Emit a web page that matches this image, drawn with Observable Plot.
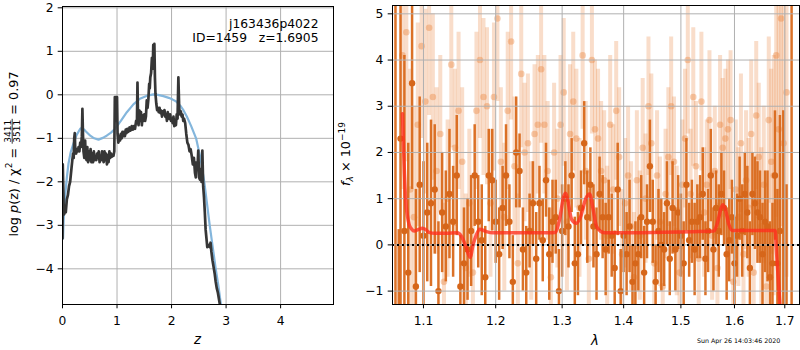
<!DOCTYPE html>
<html><head><meta charset="utf-8">
<script src="https://cdn.jsdelivr.net/npm/d3@7"></script>
<script src="https://cdn.jsdelivr.net/npm/@observablehq/plot@0.6"></script>
<style>
body{margin:0;background:#fff;}
#fig{position:relative;width:800px;height:350px;background:#fff;font-family:"DejaVu Sans",sans-serif;}
#fig > svg{position:absolute;top:0;}
</style></head><body><div id="fig"></div>
<script>
// ---------- LEFT PANEL DATA: log p(z) ----------
const zTicks = [0, 1, 2, 3, 4];
const pTicks = [-4, -3, -2, -1, 0, 1, 2];
const pzZ = [0.000,0.005,0.012,0.020,0.030,0.045,0.060,0.080,0.100,0.120,0.140,0.160,0.180,0.195,0.205,0.215,0.225,0.235,0.250,0.265,0.280,0.295,0.310,0.325,0.340,0.355,0.365,0.375,0.385,0.400,0.415,0.425,0.440,0.455,0.470,0.485,0.500,0.515,0.530,0.545,0.560,0.575,0.590,0.605,0.620,0.635,0.650,0.665,0.680,0.695,0.710,0.725,0.740,0.755,0.770,0.785,0.800,0.815,0.830,0.845,0.860,0.875,0.890,0.905,0.920,0.935,0.950,0.960,0.970,0.980,0.990,1.000,1.010,1.025,1.040,1.055,1.070,1.085,1.100,1.115,1.130,1.145,1.160,1.175,1.190,1.210,1.230,1.250,1.270,1.290,1.310,1.330,1.350,1.365,1.375,1.385,1.395,1.410,1.425,1.440,1.455,1.470,1.485,1.500,1.515,1.530,1.545,1.560,1.575,1.590,1.600,1.610,1.625,1.640,1.655,1.665,1.675,1.685,1.695,1.705,1.720,1.735,1.750,1.765,1.780,1.795,1.810,1.825,1.840,1.855,1.870,1.885,1.900,1.915,1.930,1.945,1.960,1.975,1.990,2.005,2.020,2.035,2.050,2.065,2.080,2.095,2.110,2.125,2.140,2.155,2.170,2.185,2.200,2.215,2.230,2.250,2.270,2.290,2.310,2.330,2.350,2.370,2.390,2.410,2.430,2.445,2.460,2.475,2.490,2.505,2.520,2.535,2.550,2.565,2.580,2.595,2.610,2.625,2.640,2.655,2.670,2.685,2.700,2.715,2.730,2.750,2.770,2.790,2.810,2.830,2.850,2.870,2.890];
const pzLog = [-3.3,-1.6,-2.0,-2.5,-2.75,-2.6,-2.7,-2.4,-2.3,-2.1,-2.0,-1.75,-1.5,-1.35,-1.45,-1.0,-0.88,-1.3,-1.35,-1.25,-1.3,-1.2,-1.3,-1.1,-1.2,-0.95,-0.32,-0.9,-1.3,-1.45,-1.05,-1.4,-1.5,-1.2,-1.55,-1.3,-1.5,-1.25,-1.55,-1.35,-1.55,-1.3,-1.5,-1.45,-1.5,-1.35,-1.45,-1.3,-1.55,-1.4,-1.5,-1.3,-1.45,-1.55,-1.3,-1.5,-1.35,-1.6,-1.4,-1.55,-1.3,-1.45,-1.35,-1.42,-1.38,-1.4,-1.3,-0.05,-0.3,-0.05,-0.6,-0.05,-0.9,-1.1,-0.95,-1.05,-0.9,-1.0,-0.85,-0.95,-0.85,-0.95,-0.8,-0.88,-0.78,-0.85,-0.75,-0.82,-0.72,-0.8,-0.72,-0.78,-0.6,-0.65,0.28,-0.5,-0.7,-0.36,-0.6,-0.4,-0.7,-0.48,-0.6,-0.45,-0.6,-0.5,-0.13,-0.3,-0.1,0.25,0.15,0.4,0.5,0.85,0.6,1.15,0.85,1.17,0.4,0.02,-0.2,-0.35,-0.3,-0.4,-0.3,-0.42,-0.36,-0.5,-0.38,-0.45,-0.35,-0.5,-0.45,-0.6,-0.4,-0.5,-0.55,-0.45,-0.6,-0.55,-0.65,-0.5,-0.72,-0.6,-0.7,-0.45,-0.55,0.40,-0.3,-0.45,-0.38,-0.5,-0.45,-0.6,-0.55,-0.65,-0.9,-1.1,-1.15,-1.3,-1.25,-1.4,-1.6,-1.45,-1.8,-1.9,-1.55,-1.7,-1.28,-1.9,-1.95,-1.7,-2.0,-1.28,-2.1,-2.35,-2.7,-3.1,-3.3,-3.5,-3.48,-3.45,-3.5,-3.4,-3.6,-3.8,-3.95,-4.1,-4.3,-4.45,-4.55,-4.7,-4.85];
const priorZ = [0.01,0.02,0.05,0.08,0.11,0.15,0.20,0.26,0.325,0.36,0.42,0.51,0.58,0.66,0.74,0.81,0.89,0.965,1.07,1.18,1.30,1.42,1.55,1.67,1.75,1.85,1.95,2.02,2.08,2.16,2.22,2.28,2.36,2.45,2.53,2.60,2.65,2.70,2.755,2.81,2.86,2.905];
const priorLog = [-3.3,-2.9,-2.3,-1.9,-1.58,-1.32,-1.12,-0.92,-0.78,-0.76,-0.83,-0.94,-1.0,-1.03,-0.99,-0.94,-0.87,-0.78,-0.6,-0.4,-0.22,-0.09,-0.02,0.01,0.0,-0.03,-0.07,-0.11,-0.15,-0.25,-0.36,-0.5,-0.72,-1.0,-1.45,-2.0,-2.5,-3.0,-3.5,-4.0,-4.4,-4.82];

// ---------- RIGHT PANEL DATA: spectrum ----------
const lamTicks = [1.1, 1.2, 1.3, 1.4, 1.5, 1.6, 1.7];
const fTicks = [-1, 0, 1, 2, 3, 4, 5];
const darkWave = [1.0635,1.0677,1.070,1.075,1.080,1.085,1.090,1.095,1.100,1.105,1.110,1.115,1.120,1.125,1.130,1.135,1.140,1.145,1.150,1.155,1.160,1.165,1.170,1.175,1.180,1.185,1.190,1.195,1.200,1.205,1.210,1.215,1.220,1.225,1.230,1.235,1.240,1.245,1.250,1.255,1.260,1.265,1.270,1.275,1.280,1.285,1.290,1.295,1.300,1.305,1.310,1.315,1.320,1.325,1.330,1.335,1.340,1.345,1.350,1.355,1.360,1.365,1.370,1.375,1.380,1.385,1.390,1.395,1.400,1.405,1.410,1.415,1.420,1.425,1.430,1.435,1.440,1.445,1.450,1.455,1.460,1.465,1.470,1.475,1.480,1.485,1.490,1.495,1.500,1.505,1.510,1.515,1.520,1.525,1.530,1.535,1.540,1.545,1.550,1.555,1.560,1.565,1.570,1.575,1.580,1.585,1.590,1.595,1.600,1.605,1.610,1.615,1.620,1.625,1.630,1.635,1.640,1.645,1.650,1.655,1.660,1.665,1.670,1.675,1.680,1.685,1.690,1.697,1.7036,1.714];
const darkFlux = [6.0,-1.5,
2.3,0.3,-0.6,3.5,-0.9,1.3,0.2,0.7,0.9,1.2,
-1.0,0.7,0.4,1.1,0.5,1.5,-0.9,-0.4,-0.1,0.3,
1.5,0.5,0.1,-0.7,1.5,1.4,0.5,-0.2,0.8,1.5,
0.5,-0.8,2.0,1.6,-0.1,-0.6,0.3,0.9,-0.3,0.9,
0.1,1.4,-0.2,0.5,0.6,-1.0,0.3,1.0,0.4,1.5,
-0.4,-0.2,0.8,2.2,0.6,1.3,0.4,-0.2,1.1,0.6,
-0.1,0.6,0.2,-0.5,1.2,-1.0,0.2,-0.2,0.4,-0.8,
-0.4,-0.2,0.6,-0.6,0.5,1.7,0.5,-0.8,0.3,0.0,
-0.1,0.9,-0.3,0.8,-0.1,0.7,0.2,-0.4,1.3,0.1,
0.5,-0.1,0.5,0.6,1.1,-0.3,0.3,1.5,-0.1,0.8,
0.3,1.1,0.8,-0.2,0.1,0.6,-0.4,0.2,1.0,0.3,
1.1,0.7,-0.5,1.1,0.9,0.7,0.6,-0.2,0.5,0.4,
-0.7,-0.4,1.5,-0.4,0.3,
-1.5,-1.5,6.0];
const darkErr = [8.0,1.83,
4.5,3.8,2.8,2.3,2.1,1.9,1.6,1.5,1.8,1.4,
1.5,1.3,1.2,1.4,1.2,1.3,1.1,1.2,1.1,1.2,
1.1,1.0,1.2,1.1,1.0,1.1,0.9,1.0,0.9,1.1,
0.8,1.0,1.2,0.8,0.9,1.0,0.8,0.9,1.0,0.8,
0.9,0.8,1.0,0.9,0.8,0.9,1.0,0.8,0.9,0.8,
1.0,0.9,0.8,0.9,1.0,0.8,0.9,1.0,0.8,0.9,
1.0,0.8,0.9,0.8,1.0,0.9,0.8,0.9,1.0,0.8,
0.9,0.8,0.9,1.0,0.8,1.0,0.9,0.8,0.9,1.0,
0.8,0.9,0.8,1.0,0.9,0.8,0.9,0.9,1.0,0.8,
0.9,1.0,0.8,0.9,1.0,0.8,0.9,1.0,0.9,0.8,
1.0,0.9,0.8,1.0,0.9,0.8,1.0,0.9,0.9,1.0,
0.9,1.0,1.0,0.9,1.0,1.1,1.0,1.1,1.1,1.2,
1.2,1.3,1.4,1.6,2.5,
4.4,2.8,8.0];
const lightWave = [1.0725,1.0775,1.0825,1.0875,1.0925,1.0975,1.1025,1.1075,1.1125,1.1175,1.1225,1.1275,1.1325,1.1375,1.1425,1.1475,1.1525,1.1575,1.1625,1.1675,1.1725,1.1775,1.1825,1.1875,1.1925,1.1975,1.2025,1.2075,1.2125,1.2175,1.2225,1.2275,1.2325,1.2375,1.2425,1.2475,1.2525,1.2575,1.2625,1.2675,1.2725,1.2775,1.2825,1.2875,1.2925,1.2975,1.3025,1.3075,1.3125,1.3175,1.3225,1.3275,1.3325,1.3375,1.3425,1.3475,1.3525,1.3575,1.3625,1.3675,1.3725,1.3775,1.3825,1.3875,1.3925,1.3975,1.4025,1.4075,1.4125,1.4175,1.4225,1.4275,1.4325,1.4375,1.4425,1.4475,1.4525,1.4575,1.4625,1.4675,1.4725,1.4775,1.4825,1.4875,1.4925,1.4975,1.5025,1.5075,1.5125,1.5175,1.5225,1.5275,1.5325,1.5375,1.5425,1.5475,1.5525,1.5575,1.5625,1.5675,1.5725,1.5775,1.5825,1.5875,1.5925,1.5975,1.6025,1.6075,1.6125,1.6175,1.6225,1.6275,1.6325,1.6375,1.6425,1.6475,1.6525,1.6575,1.6625,1.6675,1.6725,1.6775,1.6825,1.6875,1.6925,1.6975,1.7036];
const lightFlux = [4.1,4.6,1.2,0.6,2.6,4.3,3.1,4.7,3.2,1.6,
2.4,-0.8,1.0,3.9,2.1,2.9,1.8,-0.5,0.9,-0.6,
2.9,4.0,3.2,3.0,0.9,3.2,4.9,1.8,0.6,2.9,
4.4,1.7,-0.4,3.7,2.0,2.2,0.3,2.4,2.6,3.8,
2.6,1.6,-0.7,2.0,1.0,2.6,3.3,0.5,2.4,3.1,
2.3,0.8,4.1,1.6,-0.3,4.0,2.5,2.3,1.6,1.4,
0.2,2.6,1.2,2.9,1.9,-0.2,0.9,1.5,0.4,-0.7,
1.4,0.2,2.1,1.0,3.0,2.2,-0.4,1.5,0.5,-0.9,
1.1,1.9,3.0,1.8,0.3,-0.6,1.3,2.3,4.0,1.1,
3.2,1.7,-0.3,3.1,0.7,1.3,2.7,0.2,1.6,-0.5,
2.6,2.1,2.3,2.5,2.7,-0.8,1.2,0.6,2.2,-0.2,
1.4,0.8,2.4,-0.6,2.8,1.9,0.4,1.3,-0.9,2.7,
1.8,1.5,4.1,2.5,4.9,2.2,
3.3];
const lightErr = [2.9,2.8,2.6,2.4,2.2,2.0,2.0,1.9,1.8,1.8,
1.7,1.7,1.7,1.8,1.7,1.7,1.6,1.6,1.6,1.6,
1.7,1.7,1.7,1.7,1.6,1.6,1.8,1.6,1.6,1.7,
1.7,1.5,1.5,1.6,1.5,1.5,1.5,1.5,1.5,1.6,
1.5,1.5,1.5,1.5,1.5,1.5,1.6,1.5,1.5,1.5,
1.5,1.5,1.6,1.5,1.5,1.6,1.5,1.5,1.5,1.5,
1.5,1.5,1.4,1.5,1.5,1.4,1.4,1.5,1.4,1.4,
1.5,1.4,1.5,1.4,1.5,1.5,1.4,1.4,1.4,1.4,
1.4,1.5,1.5,1.4,1.4,1.4,1.4,1.5,1.6,1.4,
1.5,1.4,1.4,1.5,1.4,1.4,1.5,1.4,1.4,1.4,
1.5,1.5,1.5,1.5,1.5,1.4,1.5,1.5,1.5,1.5,
1.5,1.5,1.6,1.6,1.6,1.6,1.7,1.7,1.8,1.8,
2.0,2.6,3.5,4.0,4.5,4.5,
4.0];
const modelWave = [1.0725,1.0745,1.0767,1.079,1.081,1.0845,1.0877,1.093,1.0987,1.103,1.1075,1.115,1.130,1.1457,1.152,1.158,1.1636,1.168,1.172,1.177,1.186,1.196,1.2765,1.289,1.296,1.3025,1.3056,1.309,1.315,1.3225,1.329,1.3375,1.3438,1.349,1.355,1.362,1.369,1.45,1.5608,1.568,1.5745,1.578,1.583,1.589,1.596,1.62,1.6804,1.6825,1.6895,1.692];
const modelFlux = [2.84,1.8,0.96,0.62,0.45,0.34,0.30,0.33,0.36,0.33,0.27,0.25,0.25,0.26,0.17,-0.05,-0.27,0.02,0.2,0.34,0.29,0.26,0.26,0.27,0.55,1.05,1.12,0.95,0.55,0.47,0.6,1.0,1.1,0.8,0.4,0.29,0.26,0.27,0.3,0.5,0.8,0.87,0.75,0.45,0.31,0.31,0.31,-0.05,-1.2,-1.6];

// ---------- helpers ----------
const FONT = "DejaVu Sans";
const FS = 12.3;
const fmt = d => d < 0 ? "\u2212" + Math.abs(d) : String(d);
const zip = (xs, ys) => xs.map((x, i) => ({x, y: ys[i]}));
const bars = (ws, vs, es) => ws.map((w, i) => ({w, v: vs[i], lo: vs[i] - es[i], hi: vs[i] + es[i]}));
const GRID = {stroke: "#b0b0b0", strokeOpacity: 1, strokeWidth: 1};
const style = {fontFamily: FONT, fontSize: FS + "px", color: "black", background: "transparent", overflow: "visible"};

const leftPlot = Plot.plot({
  width: 340, height: 350,
  marginLeft: 62, marginRight: 7, marginTop: 6, marginBottom: 46,
  style,
  x: {domain: [0, 4.97]},
  y: {domain: [-4.82, 2.03]},
  marks: [
    Plot.gridX({ticks: zTicks, ...GRID}),
    Plot.gridY({ticks: pTicks, ...GRID}),
    Plot.line(zip(priorZ, priorLog), {x: "x", y: "y", stroke: "#84b6dc", strokeWidth: 2.2, clip: true}),
    Plot.line(zip(pzZ, pzLog), {x: "x", y: "y", stroke: "#363636", strokeWidth: 2.7, strokeLinejoin: "round", clip: true}),
    Plot.axisX({ticks: zTicks, tickSize: 4.3, tickPadding: 7, tickFormat: fmt, label: null}),
    Plot.axisY({ticks: pTicks, tickSize: 4.3, tickPadding: 4.6, tickFormat: fmt, label: null}),
    Plot.frame({stroke: "black", strokeWidth: 1})
  ]
});

const rightPlot = Plot.plot({
  width: 460, height: 350,
  marginLeft: 52, marginRight: 1, marginTop: 5, marginBottom: 46,
  style,
  x: {type: "log", domain: [1.0597, 1.7304]},
  y: {domain: [-1.29, 5.18]},
  marks: [
    Plot.ruleX(bars(lightWave, lightFlux, lightErr), {x: "w", y1: "lo", y2: "hi", stroke: "#e8782a", strokeOpacity: 0.25, strokeWidth: 4, clip: true}),
    Plot.dot(bars(lightWave, lightFlux, lightErr), {x: "w", y: "v", r: 3.3, fill: "#e8782a", fillOpacity: 0.35, clip: true}),
    Plot.ruleX(bars(darkWave, darkFlux, darkErr), {x: "w", y1: "lo", y2: "hi", stroke: "#d9691b", strokeOpacity: 0.95, strokeWidth: 2.5, clip: true}),
    Plot.dot(bars(darkWave, darkFlux, darkErr), {x: "w", y: "v", r: 3.2, fill: "#d6661a", clip: true}),
    Plot.gridX({ticks: lamTicks, ...GRID}),
    Plot.gridY({ticks: fTicks, ...GRID}),
    Plot.ruleY([0], {stroke: "black", strokeWidth: 2, strokeDasharray: "2,3"}),
    Plot.line(zip(modelWave, modelFlux), {x: "x", y: "y", stroke: "#ff2e1e", strokeOpacity: 0.78, strokeWidth: 3.5, curve: "monotone-x", clip: true}),
    Plot.axisX({ticks: lamTicks, tickSize: 4.3, tickPadding: 7, tickFormat: d => d.toFixed(1), label: null}),
    Plot.axisY({ticks: fTicks, tickSize: 4.3, tickPadding: 4.8, tickFormat: fmt, label: null}),
    Plot.frame({stroke: "black", strokeWidth: 1})
  ]
});

const fig = document.getElementById("fig");
leftPlot.style.left = "0px";
rightPlot.style.left = "340px";
fig.append(leftPlot);
fig.append(rightPlot);

// ---------- labels overlay ----------
const ov = d3.select(fig).append("svg")
  .attr("width", 800).attr("height", 350)
  .style("position", "absolute").style("left", "0px").style("top", "0px")
  .style("pointer-events", "none")
  .attr("font-family", FONT).attr("fill", "black");

// annotation in left panel
ov.append("text").attr("x", 318.5).attr("y", 27.7).attr("text-anchor", "end").attr("font-size", FS).text("j163436p4022");
ov.append("text").attr("x", 318.5).attr("y", 41.9).attr("text-anchor", "end").attr("font-size", FS).text("ID=1459\u00a0\u00a0\u00a0z=1.6905");

// left y label: log p(z) / χ² = 3411/3511 = 0.97
{
  const g = ov.append("g").attr("transform", "translate(17.5,0) rotate(-90)");
  const t1 = g.append("text").attr("font-size", FS + 0.5);
  t1.append("tspan").text("log\u00a0");
  t1.append("tspan").attr("font-style", "italic").text("p");
  t1.append("tspan").text("(z)\u00a0/\u00a0\u03c7");
  t1.append("tspan").attr("font-size", 9).attr("dy", -5.5).text("2");
  t1.append("tspan").attr("dy", 5.5).text("\u00a0=\u00a0");
  const w1 = t1.node().getComputedTextLength();
  const num = g.append("text").attr("font-size", 9).attr("text-anchor", "middle").text("3411");
  const den = g.append("text").attr("font-size", 9).attr("text-anchor", "middle").text("3511");
  const wf = Math.max(num.node().getComputedTextLength(), den.node().getComputedTextLength()) + 2;
  const t3 = g.append("text").attr("font-size", FS + 0.5).text("\u00a0=\u00a00.97");
  const w3 = t3.node().getComputedTextLength();
  const W = w1 + wf + w3;
  const x0 = -154 - W / 2;
  t1.attr("x", x0).attr("y", 0);
  num.attr("x", x0 + w1 + wf / 2).attr("y", -7);
  den.attr("x", x0 + w1 + wf / 2).attr("y", 2);
  g.append("line").attr("x1", x0 + w1).attr("x2", x0 + w1 + wf).attr("y1", -5.3).attr("y2", -5.3).attr("stroke", "black").attr("stroke-width", 0.8);
  t3.attr("x", x0 + w1 + wf).attr("y", 0);
}

// right y label: f_λ × 10^-19
{
  const g = ov.append("g").attr("transform", "translate(350,0) rotate(-90)");
  const t = g.append("text").attr("font-size", FS + 0.5);
  t.append("tspan").attr("font-style", "italic").text("f");
  t.append("tspan").attr("font-style", "italic").attr("font-size", 9).attr("dy", 3).text("\u03bb");
  t.append("tspan").attr("dy", -3).text("\u00a0\u00d7\u00a010");
  t.append("tspan").attr("font-size", 9).attr("dy", -5.5).text("\u221219");
  const W = t.node().getComputedTextLength();
  t.attr("x", -154 - W / 2).attr("y", 0);
}

// x labels
ov.append("text").attr("x", 197.5).attr("y", 343.5).attr("text-anchor", "middle").attr("font-size", FS + 1).attr("font-style", "italic").text("z");
ov.append("text").attr("x", 595).attr("y", 345).attr("text-anchor", "middle").attr("font-size", FS + 1).attr("font-style", "italic").text("\u03bb");
// timestamp
ov.append("text").attr("x", 697).attr("y", 343).attr("font-size", 6.3).text("Sun Apr 26 14:03:46 2020");
</script></body></html>
